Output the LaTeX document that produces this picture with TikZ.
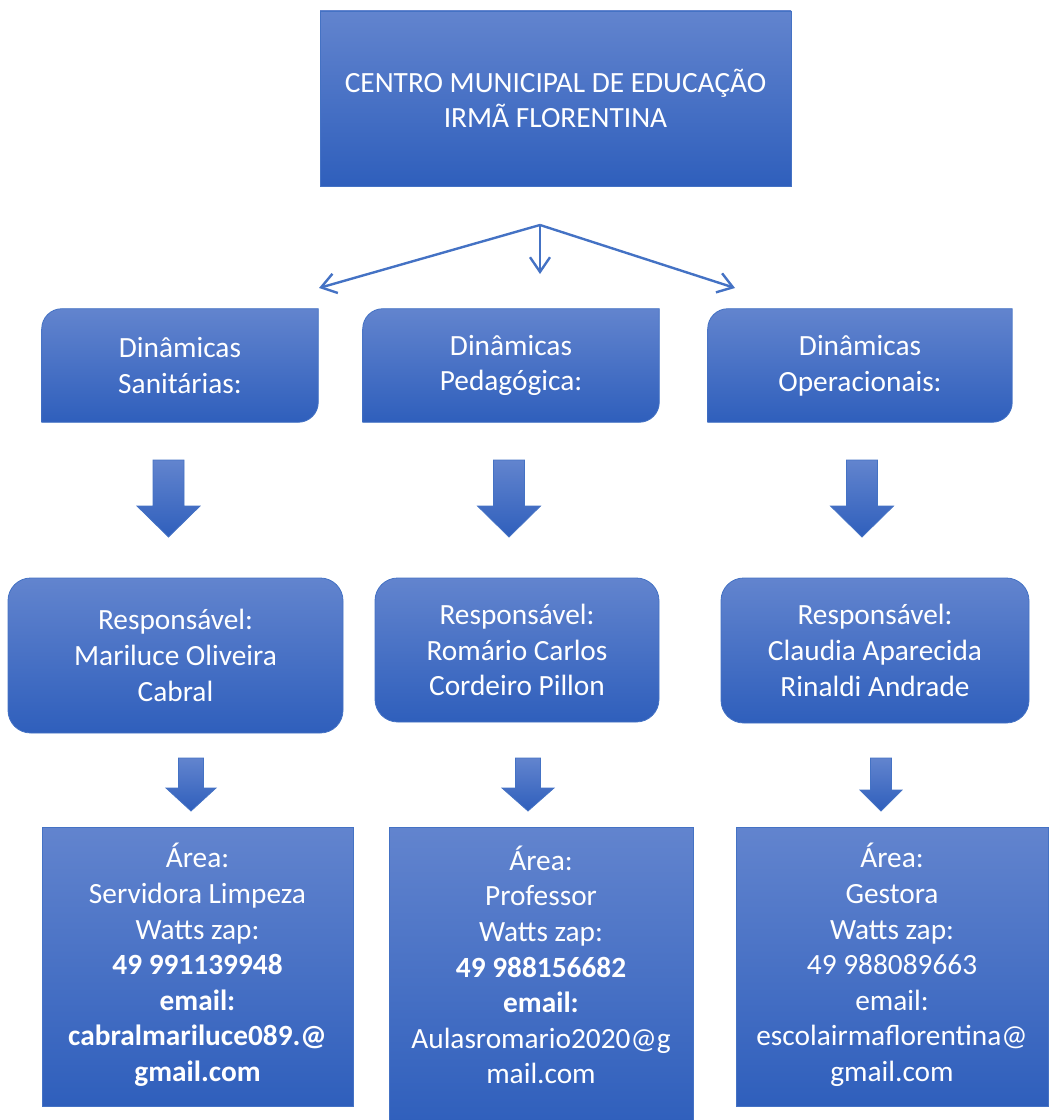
\documentclass[tikz,border=0pt]{standalone}
\usepackage{fontspec}
\setmainfont{Carlito}
\usetikzlibrary{arrows.meta,calc,backgrounds,positioning}

\definecolor{boxtop}{RGB}{98,132,206}
\definecolor{boxbot}{RGB}{47,95,188}
\definecolor{boxline}{RGB}{68,114,196}

\tikzset{
  boxfill/.style={top color=boxtop, bottom color=boxbot, draw=boxline, line width=0.6pt},
  boxtext/.style={text=white, align=center, inner sep=0pt, font=\fontsize{22pt}{26.7pt}\selectfont},
  plainbox/.style={boxfill, boxtext},
  dinbox/.style={boxtext, minimum height=84.75pt},
  respbox/.style={boxfill, boxtext, rounded corners=17pt},
  areabox/.style={boxfill, inner sep=0pt},
  linkarrow/.style={draw=boxline, line width=1.8pt, -{Straight Barb[length=11pt,width=15pt]}}
}

% round diagonal corner rectangle behind a node
\newcommand{\dinshape}[1]{%
  \path[boxfill] (#1.south west) -- ($(#1.north west)+(0pt,-15pt)$)
    arc[start angle=180, end angle=90, radius=15pt] -- (#1.north east)
    -- ($(#1.south east)+(0pt,15pt)$) arc[start angle=0, end angle=-90, radius=15pt] -- cycle;}

\begin{document}
\begin{tikzpicture}[x=0.75pt,y=-0.75pt]
\useasboundingbox (0,0) rectangle (1049,1120);

% Title
\node[plainbox, minimum width=353.25pt, minimum height=131.25pt] (centro) at (555.5,98.5)
  {CENTRO MUNICIPAL DE EDUCAÇÃO\\IRMÃ FLORENTINA};

% Straight Lines
\coordinate (hub) at (540,225);
\coordinate (tipSan) at (319,288);
\coordinate (tipPed) at (540,274);
\coordinate (tipOpe) at (735,288);
\draw[linkarrow] (hub) -- (tipSan);
\draw[linkarrow] (hub) -- (tipPed);
\draw[linkarrow] (hub) -- (tipOpe);

% Dinamicas
\node[dinbox, minimum width=207pt] (dinSan) at (180,365.5) {Dinâmicas\\Sanitárias:};
\node[dinbox, minimum width=222pt] (dinPed) at (511,365.5) {Dinâmicas\\Pedagógica:};
\node[dinbox, minimum width=228pt] (dinOpe) at (860,365.5) {Dinâmicas\\Operacionais:};
\begin{scope}[on background layer]
  \dinshape{dinSan}
  \dinshape{dinPed}
  \dinshape{dinOpe}
\end{scope}

% Block arrows
\foreach \cx/\yt/\ym/\yb/\hw/\sw in {168.5/460/506/537/31.5/15.5, 509/460/506/537/31.5/15.5,
    862/460/506/537/31.5/15.5, 191/758/788/811/25/12.5, 528/758/788/811/26/12.5,
    881/758/790/811/21/10.5}
  \path[boxfill] (\cx-\sw,\yt) -- (\cx+\sw,\yt) -- (\cx+\sw,\ym) -- (\cx+\hw,\ym)
    -- (\cx,\yb) -- (\cx-\hw,\ym) -- (\cx-\sw,\ym) -- cycle;

% Responsavel
\node[respbox, minimum width=251.25pt, minimum height=116.25pt] (respSan) at (175.5,655.5)
  {Responsável:\\Mariluce Oliveira\\Cabral};
\node[respbox, minimum width=213pt, minimum height=108pt] (respPed) at (517,650)
  {Responsável:\\Romário Carlos\\Cordeiro Pillon};
\node[respbox, minimum width=231pt, minimum height=108.75pt] (respOpe) at (875,650.5)
  {Responsável:\\Claudia Aparecida\\Rinaldi Andrade};

% Area
\node[areabox, minimum width=233.25pt, minimum height=209.25pt] (areaSan) at (197.5,966.5) {};
\node[areabox, minimum width=228pt, minimum height=225pt] (areaPed) at (541,977) {};
\node[areabox, minimum width=234pt, minimum height=209.25pt] (areaOpe) at (892,966.5) {};

% Text Node
\node[boxtext] (txtSan) at (197.5,965) {Área:\\Servidora Limpeza\\Watts zap:\\\textbf{49 991139948}\\\textbf{email:}\\\textbf{cabralmariluce089.@}\\\textbf{gmail.com}};
\node[boxtext] (txtPed) at (541,965) {Área:\\Professor\\Watts zap:\\\textbf{49 988156682}\\\textbf{email:}\\Aulasromario2020@g\\mail.com};
\node[boxtext] (txtOpe) at (892,965) {Área:\\Gestora\\Watts zap:\\49 988089663\\email:\\escolairmaflorentina@\\gmail.com};

\end{tikzpicture}
\end{document}
